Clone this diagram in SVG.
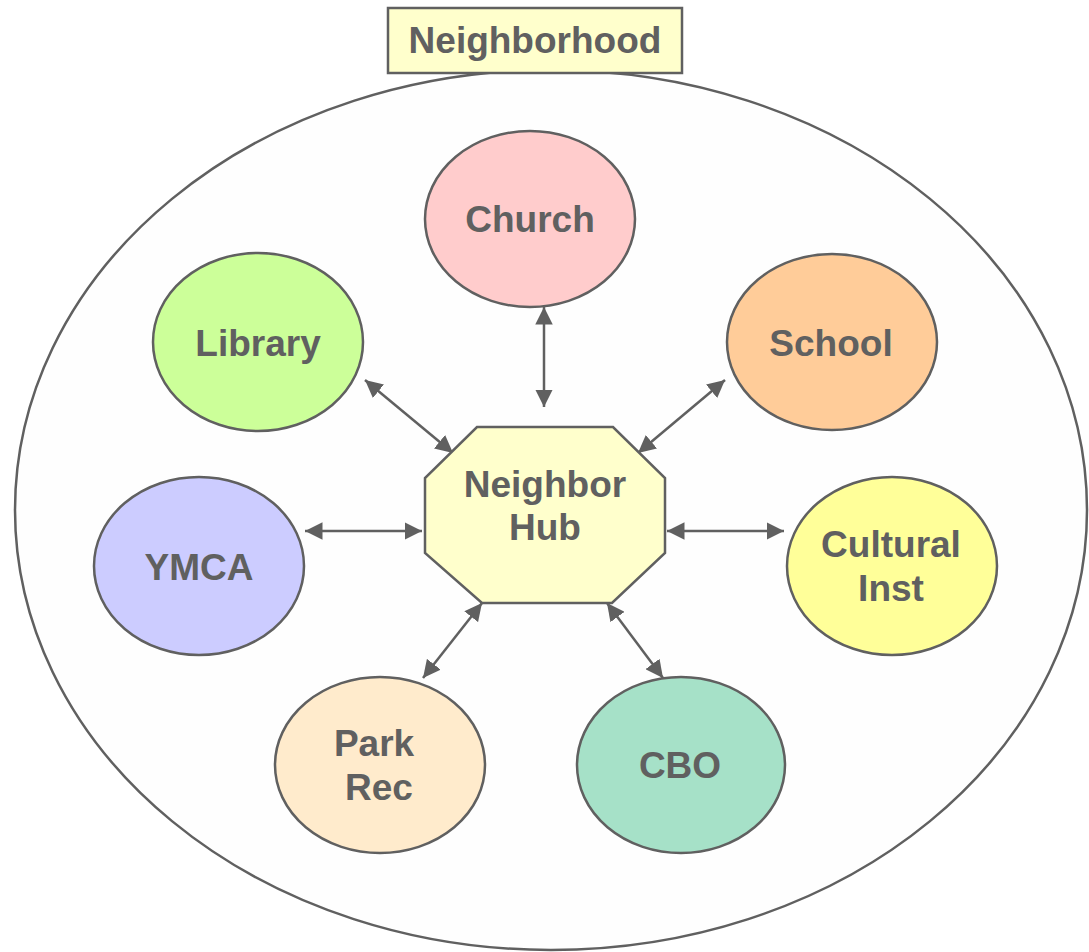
<svg xmlns="http://www.w3.org/2000/svg" width="1089" height="952" viewBox="0 0 1089 952">
<style>
.n{stroke:#606060;stroke-width:2.5}
.t{font-family:"Liberation Sans",Arial,sans-serif;font-weight:bold;font-size:37px;fill:#606060;text-anchor:middle}
.c{stroke:#606060;stroke-width:2.5;fill:none;marker-start:url(#ah);marker-end:url(#ah)}
</style>
<defs>
<marker id="ah" viewBox="0 0 10 10" refX="10" refY="5" markerWidth="7" markerHeight="7" orient="auto-start-reverse" markerUnits="strokeWidth">
<path d="M0,0 L10,5 L0,10 z" fill="#606060"/>
</marker>
</defs>
<rect width="1089" height="952" fill="#ffffff"/>
<g id="neighborhood">
<ellipse cx="551" cy="510" rx="536" ry="440" fill="#fefefe" class="n"/>
<rect x="388" y="8" width="294" height="65" fill="#ffffcc" class="n"/>
<text x="535" y="53" class="t">Neighborhood</text>
</g>
<g id="connectors">
<line x1="544" y1="307" x2="544" y2="407" class="c"/>
<line x1="365" y1="380" x2="453" y2="453" class="c"/>
<line x1="725" y1="380" x2="638" y2="453" class="c"/>
<line x1="305" y1="531" x2="422" y2="531" class="c"/>
<line x1="667" y1="531" x2="784" y2="531" class="c"/>
<line x1="482" y1="603" x2="423" y2="678" class="c"/>
<line x1="607" y1="603" x2="663" y2="678" class="c"/>
</g>
<g id="hub">
<polygon points="477,427 613,427 665,478 665,553 612,603 482,603 425,553 425,478" fill="#ffffcc" class="n"/>
<text x="545" y="497" class="t">Neighbor</text>
<text x="545" y="540" class="t">Hub</text>
</g>
<g id="church">
<ellipse cx="530" cy="219" rx="105" ry="88" fill="#ffcccc" class="n"/>
<text x="530" y="232" class="t">Church</text>
</g>
<g id="library">
<ellipse cx="258" cy="342" rx="105" ry="89" fill="#ccff99" class="n"/>
<text x="258" y="356" class="t">Library</text>
</g>
<g id="school">
<ellipse cx="832" cy="342" rx="105" ry="88" fill="#ffcc99" class="n"/>
<text x="831" y="356" class="t">School</text>
</g>
<g id="ymca">
<ellipse cx="199" cy="566" rx="105" ry="89" fill="#ccccff" class="n"/>
<text x="199" y="580" class="t">YMCA</text>
</g>
<g id="cultural">
<ellipse cx="892" cy="566" rx="105" ry="89" fill="#ffff99" class="n"/>
<text x="891" y="557" class="t">Cultural</text>
<text x="891" y="601" class="t">Inst</text>
</g>
<g id="parkrec">
<ellipse cx="380" cy="765" rx="105" ry="88" fill="#ffebcc" class="n"/>
<text x="374" y="756" class="t">Park</text>
<text x="379" y="800" class="t">Rec</text>
</g>
<g id="cbo">
<ellipse cx="681" cy="765" rx="104" ry="88" fill="#a6e1c8" class="n"/>
<text x="680" y="778" class="t">CBO</text>
</g>
</svg>
